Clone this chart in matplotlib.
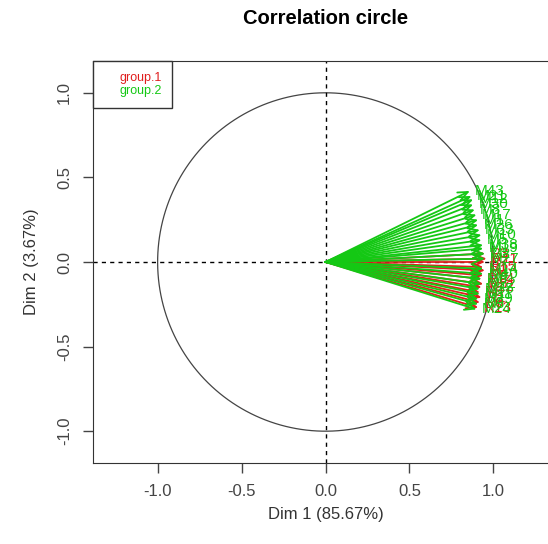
import numpy as np
import matplotlib
matplotlib.use("Agg")
from matplotlib import pyplot as plt

plt.rcParams['font.family'] = ['Liberation Sans', 'DejaVu Sans']

# variable coordinates on the first two dimensions
g1_names = ["R3", "R11", "R7", "R15", "R2", "R9", "R14", "R5", "R12", "R8", "R1", "R6", "R13"]
g1_x = [0.95, 0.96, 0.95, 0.94, 0.95, 0.94, 0.93, 0.94, 0.93, 0.92, 0.93, 0.92, 0.91]
g1_y = [0.05, 0.02, 0.00, -0.03, -0.05, -0.08, -0.10, -0.13, -0.15, -0.18, -0.21, -0.24, -0.27]

g2_names = ["M43", "M21", "M12", "M30", "M8", "M17", "M1", "M26", "M33", "M10",
            "M5", "M38", "M19", "M2", "M27", "M14", "M40", "M6", "M22", "M35",
            "M11", "M29", "M3", "M24"]
g2_x = [0.86, 0.87, 0.88, 0.88, 0.89, 0.90, 0.91, 0.91, 0.92, 0.93,
        0.93, 0.94, 0.94, 0.95, 0.95, 0.94, 0.94, 0.93, 0.93, 0.92,
        0.92, 0.91, 0.91, 0.90]
g2_y = [0.42, 0.39, 0.37, 0.34, 0.31, 0.28, 0.25, 0.22, 0.19, 0.16,
        0.13, 0.10, 0.08, 0.05, 0.02, -0.04, -0.07, -0.10, -0.13, -0.16,
        -0.19, -0.22, -0.25, -0.28]

groups = ["group.1", "group.2"]
colors = ["#e01e1e", "#14c814"]

fig = plt.figure(figsize=(5.48, 5.44), dpi=100)
ax = fig.add_axes([93 / 548, 81 / 544, 465 / 548, 402 / 544])
ax.set_xlim(-1.385, 1.385)
ax.set_ylim(-1.188, 1.188)

# unit circle and axes through origin
t = np.linspace(0, 2 * np.pi, 400)
ax.plot(np.cos(t), np.sin(t), color="#444444", lw=0.9)
ax.axhline(0, color="black", lw=1, ls=(0, (3, 3)))
ax.axvline(0, color="black", lw=1, ls=(0, (3, 3)))

def draw_group(xs, ys, names, col):
    for x, y, n in zip(xs, ys, names):
        ax.annotate("", xy=(x, y), xytext=(0, 0),
                    arrowprops=dict(arrowstyle="->,head_length=0.7,head_width=0.3",
                                    color=col, lw=1.3, shrinkA=0, shrinkB=0))
        ax.text(x + 0.03, y, n, color=col, fontsize=11, ha="left", va="center")

draw_group(g1_x, g1_y, g1_names, colors[0])
draw_group(g2_x, g2_y, g2_names, colors[1])

ax.set_xticks([-1.0, -0.5, 0.0, 0.5, 1.0])
ax.set_yticks([-1.0, -0.5, 0.0, 0.5, 1.0])
ax.set_xticklabels(["-1.0", "-0.5", "0.0", "0.5", "1.0"])
ax.set_yticklabels(["-1.0", "-0.5", "0.0", "0.5", "1.0"], rotation=90, va="center")
ax.tick_params(direction="out", length=7, width=1, labelsize=12, pad=8,
               colors="#444444")
for s in ax.spines.values():
    s.set_color("#333333")
ax.spines["right"].set_visible(False)

ax.set_xlabel("Dim 1 (85.67%)", fontsize=12, color="#333333", labelpad=6)
ax.set_ylabel("Dim 2 (3.67%)", fontsize=12, color="#333333", labelpad=13)
fig.text(326 / 548, 1 - 18 / 544, "Correlation circle", fontsize=14.5,
         fontweight="bold", ha="center", va="center")

leg = ax.legend(handles=[plt.Line2D([], [], lw=0) for _ in groups], labels=groups,
                loc="upper left", bbox_to_anchor=(0, 1), borderaxespad=0,
                handlelength=1.0, handletextpad=0.22, labelspacing=0.1,
                fontsize=9, fancybox=False, framealpha=1, edgecolor="#333333",
                borderpad=0.86)
for txt, c in zip(leg.get_texts(), colors):
    txt.set_color(c)

fig.savefig("out.png", dpi=100)
